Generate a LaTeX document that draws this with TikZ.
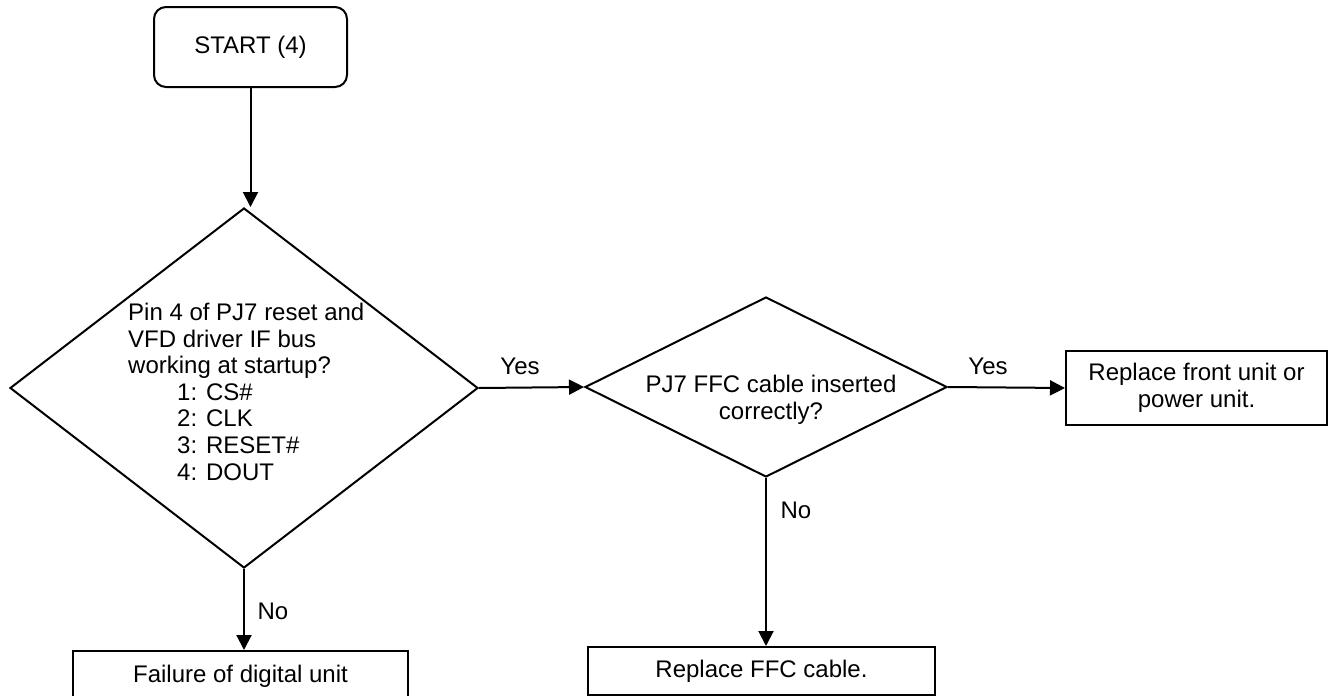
\documentclass[tikz,border=0pt]{standalone}
\usepackage{fontspec}
\setmainfont{Liberation Sans}
\usetikzlibrary{shapes.geometric,arrows.meta}

\tikzset{
  every node/.style={font=\fontsize{24}{26.6}\selectfont},
  boxnode/.style={draw, line width=2pt, rectangle, inner sep=0pt, align=center},
  startnode/.style={boxnode, rounded corners=12pt},
  decision/.style={draw, line width=2pt, diamond, inner sep=0pt},
  qtext/.style={inner sep=0pt},
  answer/.style={inner sep=0pt},
  flow/.style={line width=2pt, -{Triangle[length=15pt,width=15pt]}}
}

\begin{document}
\begin{tikzpicture}[x=1pt,y=-1pt]
\useasboundingbox (0,0) rectangle (1331,696);
\clip (0,0) rectangle (1331,696);

% start
\node[startnode, minimum width=193pt, minimum height=80pt] (start) at (250.5,47) {START (4)};

% first decision
\node[decision, minimum width=468pt, minimum height=360pt] (big) at (244,388) {};
\node[qtext, anchor=north west, align=left] (bigtext) at (128,303)
  {Pin 4 of PJ7 reset and\\
   VFD driver IF bus\\
   working at startup?\\
   \hspace*{49pt}1: CS\#\\
   \hspace*{49pt}2: CLK\\
   \hspace*{49pt}3: RESET\#\\
   \hspace*{49pt}4: DOUT};

% second decision
\node[decision, minimum width=362pt, minimum height=180pt] (small) at (766,387) {};
\node[qtext, anchor=north, align=center] (smalltext) at (771,375)
  {PJ7 FFC cable inserted\\correctly?};

% outcomes
\node[boxnode, minimum width=261pt, minimum height=74pt] (front) at (1196.5,388)
  {Replace front unit or\\power unit.};
\node[boxnode, minimum width=335pt, minimum height=50pt] (fail) at (240.5,676)
  {Failure of digital unit};
\node[boxnode, minimum width=347pt, minimum height=48pt] (ffc) at (761.5,671)
  {Replace FFC cable.};

% connectors
\draw[flow] (start.south) -- (start.south |- big.north);
\draw[flow] (big.east) -- (small.west);
\draw[flow] (small.east) -- (front.west);
\draw[flow] (big.south) -- (big.south |- fail.north);
\draw[flow] (small.south) -- (small.south |- ffc.north);

% branch labels
\node[answer] (yes1) at (520,366) {Yes};
\node[answer] (yes2) at (988,366) {Yes};
\node[answer] (no1) at (273,611) {No};
\node[answer] (no2) at (796,510) {No};
\end{tikzpicture}
\end{document}
